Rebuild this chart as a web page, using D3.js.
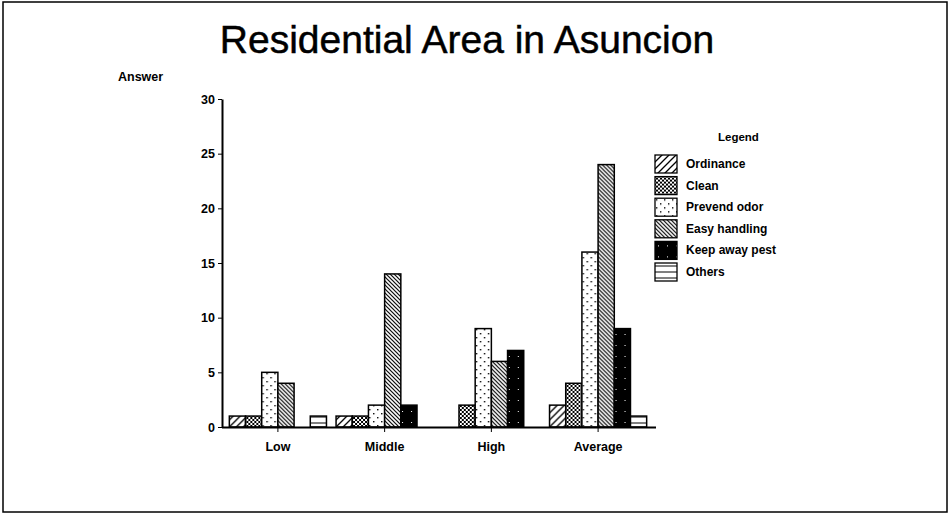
<!DOCTYPE html>
<html>
<head>
<meta charset="utf-8">
<script src="https://cdn.jsdelivr.net/npm/d3@7"></script>
<style>
  body { margin: 0; background: #fff; }
  text { font-family: "Liberation Sans", Arial, sans-serif; fill: #000; }
</style>
</head>
<body>
<div class="canvas"></div>
<script>
const groups = ['Low', 'Middle', 'High', 'Average']
const series = ['Ordinance', 'Clean', 'Prevend odor', 'Easy handling', 'Keep away pest', 'Others']
const low = [1, 1, 5, 4, 0, 1]
const middle = [1, 1, 2, 14, 2, 0]
const high = [0, 2, 9, 6, 7, 0]
const average = [2, 4, 16, 24, 9, 1]
const yTicks = [0, 5, 10, 15, 20, 25, 30]

const values = [low, middle, high, average]
const patternIds = ['p-ord', 'p-clean', 'p-odor', 'p-easy', 'p-pest', 'p-other']

const dims = { width: 951, height: 515 }

const svg = d3.select('.canvas')
    .append('svg')
    .attr('width', dims.width)
    .attr('height', dims.height)

// hatch patterns
const defs = svg.append('defs')

const pOrd = defs.append('pattern').attr('id', 'p-ord')
    .attr('patternUnits', 'userSpaceOnUse').attr('width', 7).attr('height', 7)
pOrd.append('rect').attr('width', 7).attr('height', 7).attr('fill', '#fff')
pOrd.append('path').attr('d', 'M0,7 L7,0 M-2,2 L2,-2 M5,9 L9,5')
    .attr('stroke', '#000').attr('stroke-width', 1.3)

const pClean = defs.append('pattern').attr('id', 'p-clean')
    .attr('patternUnits', 'userSpaceOnUse').attr('width', 4).attr('height', 4)
pClean.append('rect').attr('width', 4).attr('height', 4).attr('fill', '#fff')
pClean.append('path').attr('d', 'M0,4 L4,0 M0,0 L4,4')
    .attr('stroke', '#000').attr('stroke-width', 1)

const pOdor = defs.append('pattern').attr('id', 'p-odor')
    .attr('patternUnits', 'userSpaceOnUse').attr('width', 8).attr('height', 8)
pOdor.append('rect').attr('width', 8).attr('height', 8).attr('fill', '#fff')
pOdor.append('rect').attr('x', 1).attr('y', 1).attr('width', 1.4).attr('height', 1.4).attr('fill', '#000')
pOdor.append('rect').attr('x', 5).attr('y', 5).attr('width', 1.4).attr('height', 1.4).attr('fill', '#000')

const pEasy = defs.append('pattern').attr('id', 'p-easy')
    .attr('patternUnits', 'userSpaceOnUse').attr('width', 4).attr('height', 4)
pEasy.append('rect').attr('width', 4).attr('height', 4).attr('fill', '#fff')
pEasy.append('path').attr('d', 'M0,0 L4,4 M-1,3 L1,5 M3,-1 L5,1')
    .attr('stroke', '#000').attr('stroke-width', 1.2)

const pPest = defs.append('pattern').attr('id', 'p-pest')
    .attr('patternUnits', 'userSpaceOnUse').attr('width', 9).attr('height', 11)
pPest.append('rect').attr('width', 9).attr('height', 11).attr('fill', '#000')
pPest.append('rect').attr('x', 3).attr('y', 4).attr('width', 1).attr('height', 1).attr('fill', '#fff')

const pOther = defs.append('pattern').attr('id', 'p-other')
    .attr('patternUnits', 'userSpaceOnUse').attr('width', 10).attr('height', 6)
pOther.append('rect').attr('width', 10).attr('height', 6).attr('fill', '#fff')
pOther.append('path').attr('d', 'M0,3 L10,3').attr('stroke', '#000').attr('stroke-width', 1)

// page frame
svg.append('rect')
    .attr('x', 3).attr('y', 2).attr('width', 944).attr('height', 510)
    .attr('fill', 'none').attr('stroke', '#000').attr('stroke-width', 1.5)

svg.append('text')
    .attr('x', 467).attr('y', 53)
    .attr('text-anchor', 'middle')
    .attr('font-size', 39)
    .attr('stroke', '#000').attr('stroke-width', 0.5)
    .text('Residential Area in Asuncion')

svg.append('text')
    .attr('x', 118).attr('y', 81)
    .attr('font-size', 12.5).attr('font-weight', 'bold')
    .text('Answer')

// scales
const y = d3.scaleLinear().domain([0, 30]).range([427, 99])

const x0 = d3.scaleBand()
    .domain(groups)
    .range([224, 652])
    .paddingInner(0.09)
    .paddingOuter(0.05)

const x1 = d3.scaleBand()
    .domain(series)
    .range([0, x0.bandwidth()])

// bars
const graph = svg.append('g')

const grp = graph.selectAll('g.group')
    .data(groups)
    .enter()
    .append('g')
        .attr('class', 'group')
        .attr('transform', d => `translate(${x0(d)}, 0)`)

grp.selectAll('rect')
    .data((g, gi) => series.map((s, si) => ({ s, si, v: values[gi][si] })))
    .enter()
    .append('rect')
        .filter(d => d.v > 0)
        .attr('x', d => x1(d.s))
        .attr('y', d => y(d.v))
        .attr('width', x1.bandwidth())
        .attr('height', d => y(0) - y(d.v))
        .attr('fill', d => `url(#${patternIds[d.si]})`)
        .attr('stroke', '#000')
        .attr('stroke-width', 1.5)

// axes
const yAxis = d3.axisLeft(y).tickValues(yTicks).tickSize(4).tickSizeOuter(0)
const yG = svg.append('g')
    .attr('transform', 'translate(222, 0)')
    .call(yAxis)
yG.select('.domain').attr('stroke-width', 2)
yG.selectAll('text')
    .attr('font-size', 12.5).attr('font-weight', 'bold')
    .attr('font-family', '"Liberation Sans", Arial, sans-serif')

const xAxis = d3.axisBottom(x0).tickSize(5).tickSizeOuter(0)
const xG = svg.append('g')
    .attr('transform', 'translate(0, 427)')
    .call(xAxis)
xG.select('.domain').attr('d', 'M222,0.5H656').attr('stroke-width', 2)
xG.selectAll('text')
    .attr('dy', '1.3em')
    .attr('font-size', 12.5).attr('font-weight', 'bold')
    .attr('font-family', '"Liberation Sans", Arial, sans-serif')

// legend
const legend = svg.append('g').attr('transform', 'translate(655, 0)')

legend.append('text')
    .attr('x', 63).attr('y', 141)
    .attr('font-size', 11.5).attr('font-weight', 'bold')
    .text('Legend')

const item = legend.selectAll('g.item')
    .data(series)
    .enter()
    .append('g')
        .attr('class', 'item')
        .attr('transform', (d, i) => `translate(0, ${155 + i * 21.6})`)

item.append('rect')
    .attr('width', 22).attr('height', 18)
    .attr('fill', (d, i) => `url(#${patternIds[i]})`)
    .attr('stroke', '#000').attr('stroke-width', 1.3)

item.append('text')
    .attr('x', 31).attr('y', 13)
    .attr('font-size', 12).attr('font-weight', 'bold')
    .text(d => d)
</script>
</body>
</html>
